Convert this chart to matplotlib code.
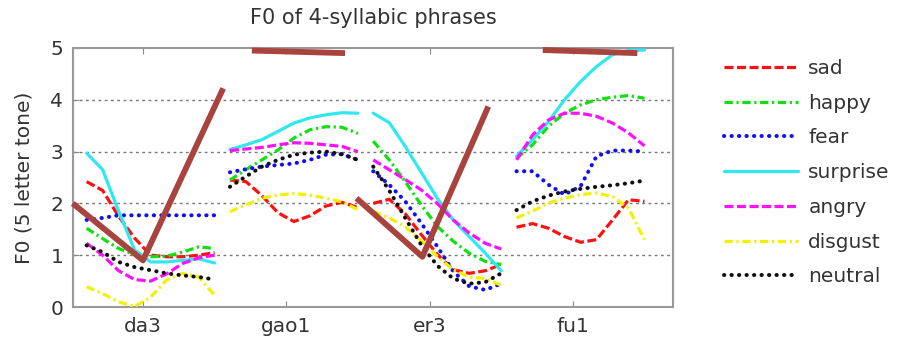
import numpy as np
import matplotlib
matplotlib.use("Agg")
import matplotlib.pyplot as plt

plt.rcParams["font.family"] = ["DejaVu Sans"]
plt.rcParams["lines.scale_dashes"] = False

syllables = ["da3", "gao1", "er3", "fu1"]
emotions = ["sad", "happy", "fear", "surprise", "angry", "disgust", "neutral"]

# F0 contours (5-level tone scale), 9 samples per syllable
sad = [
    [2.42, 2.25, 1.75, 1.33, 1.00, 0.97, 0.97, 1.00, 1.05],
    [2.45, 2.42, 2.15, 1.82, 1.65, 1.76, 1.95, 2.02, 1.92],
    [2.00, 2.08, 1.80, 1.40, 1.02, 0.72, 0.65, 0.70, 0.82],
    [1.54, 1.61, 1.52, 1.36, 1.25, 1.30, 1.68, 2.07, 2.04],
]
happy = [
    [1.52, 1.32, 1.13, 1.01, 0.97, 0.98, 1.06, 1.16, 1.13],
    [2.45, 2.65, 2.84, 3.03, 3.26, 3.42, 3.48, 3.47, 3.35],
    [3.20, 2.84, 2.42, 1.97, 1.56, 1.27, 1.04, 0.88, 0.82],
    [2.87, 3.13, 3.49, 3.74, 3.90, 4.00, 4.05, 4.08, 4.03],
]
fear = [
    [1.68, 1.72, 1.77, 1.77, 1.77, 1.77, 1.77, 1.77, 1.77],
    [2.60, 2.66, 2.71, 2.74, 2.77, 2.84, 2.94, 2.95, 2.84],
    [2.62, 2.36, 2.04, 1.62, 1.17, 0.69, 0.40, 0.33, 0.45],
    [2.62, 2.62, 2.36, 2.17, 2.33, 2.91, 3.02, 3.02, 3.00],
]
surprise = [
    [2.97, 2.65, 1.85, 1.10, 0.87, 0.87, 0.90, 0.93, 0.85],
    [3.04, 3.13, 3.23, 3.39, 3.55, 3.65, 3.71, 3.75, 3.74],
    [3.74, 3.56, 3.10, 2.60, 2.10, 1.68, 1.36, 1.04, 0.70],
    [2.91, 3.23, 3.58, 4.00, 4.35, 4.64, 4.87, 4.95, 4.96],
]
angry = [
    [1.23, 1.00, 0.70, 0.53, 0.50, 0.64, 0.84, 0.95, 1.00],
    [3.02, 3.05, 3.08, 3.13, 3.17, 3.16, 3.13, 3.10, 3.00],
    [2.84, 2.65, 2.46, 2.26, 2.00, 1.68, 1.43, 1.23, 1.12],
    [2.84, 3.32, 3.61, 3.74, 3.74, 3.68, 3.55, 3.36, 3.11],
]
disgust = [
    [0.39, 0.26, 0.10, 0.01, 0.19, 0.52, 0.65, 0.58, 0.23],
    [1.84, 1.97, 2.10, 2.16, 2.19, 2.16, 2.10, 2.03, 1.88],
    [1.85, 1.72, 1.55, 1.28, 0.98, 0.72, 0.58, 0.55, 0.42],
    [1.72, 1.85, 2.01, 2.10, 2.17, 2.20, 2.13, 1.91, 1.30],
]
neutral = [
    [1.19, 1.06, 0.87, 0.77, 0.71, 0.65, 0.61, 0.58, 0.53],
    [2.32, 2.52, 2.71, 2.84, 2.94, 2.98, 3.00, 2.95, 2.84],
    [2.71, 2.25, 1.72, 1.20, 0.80, 0.55, 0.45, 0.48, 0.65],
    [1.87, 2.04, 2.15, 2.23, 2.28, 2.32, 2.35, 2.39, 2.44],
]
series = [sad, happy, fear, surprise, angry, disgust, neutral]

# Standard citation tone shapes (x in tick units, value on tone scale)
tone_x = [
    [0.51, 1.00, 1.56],
    [1.76, 2.41],
    [2.49, 2.95, 3.41],
    [3.79, 4.45],
]
tone_y = [
    [2.00, 0.90, 4.22],
    [4.95, 4.90],
    [2.10, 0.97, 3.87],
    [4.96, 4.90],
]

colors = ["#ff1010", "#10e010", "#1010f0", "#30e8f0", "#ff10ff", "#f2f200", "#101010"]
styles = [
    dict(linestyle=(0, (6.5, 2.5)), lw=2.3),
    dict(linestyle=(0, (6.0, 2.6, 1.6, 2.6)), lw=2.3),
    dict(linestyle=(0, (0.2, 5.2)), lw=2.9, dash_capstyle="round"),
    dict(linestyle="-", lw=2.3),
    dict(linestyle=(0, (6.5, 2.5)), lw=2.3),
    dict(linestyle=(0, (6.0, 2.6, 1.6, 2.6)), lw=2.3),
    dict(linestyle=(0, (0.2, 5.2)), lw=2.9, dash_capstyle="round"),
]

fig = plt.figure(figsize=(8.98, 3.40), dpi=100)
ax = fig.add_axes([0.0813, 0.097, 0.668, 0.762])

t = np.linspace(0.0, 1.0, 9)
seg_start = -0.393
seg_width = 0.893

for name, data, c, st in zip(emotions, series, colors, styles):
    for i, seg in enumerate(data):
        x = (i + 1) + seg_start + t * seg_width
        ax.plot(x, seg, color=c, label=name if i == 0 else None,
                solid_capstyle="round", zorder=3, **st)

for tx, ty in zip(tone_x, tone_y):
    ax.plot(tx, ty, color="#a8433d", lw=4.2, zorder=4, clip_on=False,
            solid_capstyle="butt")

ax.set_xlim(0.512, 4.698)
ax.set_ylim(0, 5)
ax.set_xticks([1, 2, 3, 4])
ax.set_xticklabels(syllables)
ax.set_yticks([0, 1, 2, 3, 4, 5])
for y in [1, 2, 3, 4]:
    ax.axhline(y, color="#777777", lw=1.0, linestyle=(0, (2, 2.5)), zorder=1)

ax.tick_params(axis="both", direction="in", length=4, color="#888888",
               labelsize=14.5, labelcolor="#333333", top=True, right=False)
ax.tick_params(axis="x", pad=7)
ax.tick_params(axis="y", pad=7)
for s in ax.spines.values():
    s.set_color("#999999")
    s.set_linewidth(1.5)

ax.set_title("F0 of 4-syllabic phrases", fontsize=15, color="#333333", pad=17)
ax.set_ylabel("F0 (5 letter tone)", fontsize=14.5, color="#333333", labelpad=12)

leg = ax.legend(loc="upper left", bbox_to_anchor=(0.797, 0.85),
                bbox_transform=fig.transFigure, frameon=False,
                fontsize=14.5, handlelength=3.7, handletextpad=0.5,
                labelspacing=0.78, borderaxespad=0)
for txt in leg.get_texts():
    txt.set_color("#333333")

fig.savefig("out.png", dpi=100)
